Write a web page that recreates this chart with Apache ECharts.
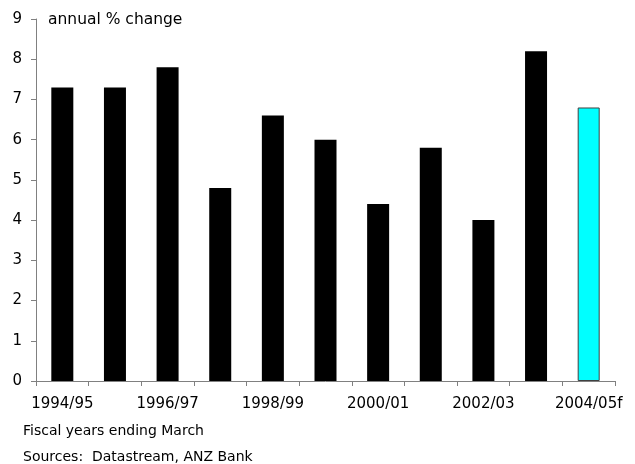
<!DOCTYPE html>
<html><head><meta charset="utf-8">
<script src="https://cdn.jsdelivr.net/npm/echarts@6/dist/echarts.min.js"></script>
<style>html,body{margin:0;padding:0;background:#fff}#c{width:635px;height:464px}</style>
</head><body><div id="c"></div>
<script>
const categories = ['1994/95','1995/96','1996/97','1997/98','1998/99','1999/00','2000/01','2001/02','2002/03','2003/04','2004/05f'];
const values = [7.3, 7.3, 7.8, 4.8, 6.6, 6.0, 4.4, 5.8, 4.0, 8.2, 6.8];
const forecastIndex = 10;
const yTicks = [0,1,2,3,4,5,6,7,8,9];

const font = 'DejaVu Sans, Verdana, sans-serif';
const chart = echarts.init(document.getElementById('c'), null, {renderer:'canvas'});
chart.setOption({
  animation:false,
  grid:{left:36,right:20,top:19,bottom:83,containLabel:false},
  xAxis:{type:'category',data:categories,boundaryGap:true,
    axisLine:{lineStyle:{color:'#808080',width:1}},
    axisTick:{show:true,alignWithLabel:false,interval:0,length:5,lineStyle:{color:'#808080'}},
    axisLabel:{interval:1,color:'#000',fontFamily:font,fontSize:15,margin:16}},
  yAxis:{type:'value',min:0,max:9,interval:1,
    splitLine:{show:false},
    axisLine:{show:true,lineStyle:{color:'#808080',width:1}},
    axisTick:{show:true,length:5,lineStyle:{color:'#808080'}},
    axisLabel:{color:'#000',fontFamily:font,fontSize:15,margin:14,
      formatter:v=>yTicks.includes(v)?String(v):''}},
  series:[{type:'bar',barWidth:22,
    data:values.map((v,i)=>i===forecastIndex?{value:v,itemStyle:{color:'#00ffff',borderColor:'#404040',borderWidth:1}}:{value:v,itemStyle:{color:'#000'}})}],
  graphic:[
    {type:'text',left:48,top:12,style:{text:'annual % change',font:'15.5px '+font,fill:'#000'}},
    {type:'text',left:23,top:424,style:{text:'Fiscal years ending March',font:'14px '+font,fill:'#000'}},
    {type:'text',left:23,top:450,style:{text:'Sources:  Datastream, ANZ Bank',font:'14px '+font,fill:'#000'}}
  ]
});
</script></body></html>
